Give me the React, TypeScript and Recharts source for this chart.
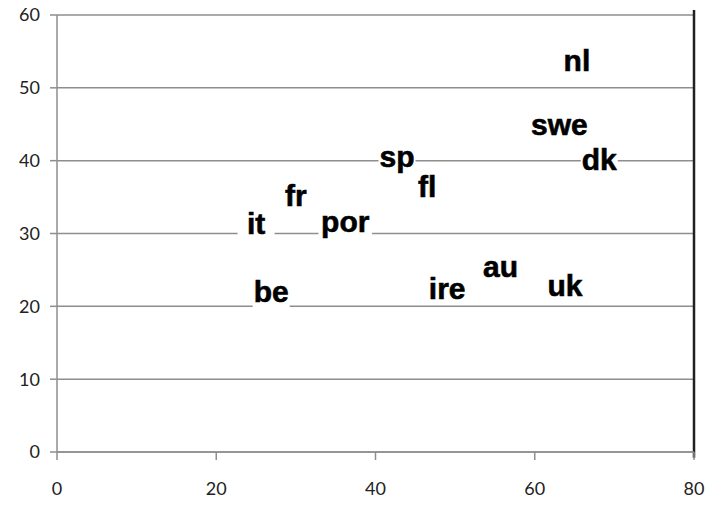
import { CartesianGrid, ReferenceLine, Scatter, ScatterChart, XAxis, YAxis } from "recharts";

// country codes with their (x, y) positions
const countries = ["nl", "swe", "dk", "sp", "fl", "fr", "it", "por", "be", "ire", "au", "uk"];
const xValues = [65.3, 63.1, 68.1, 42.7, 46.5, 30.0, 25.0, 36.2, 26.9, 49.0, 55.7, 63.8];
const yValues = [53.4, 44.6, 39.8, 40.1, 36.0, 34.8, 30.9, 31.2, 21.6, 22.0, 25.1, 22.4];

const xTicks = [0, 20, 40, 60, 80];
const yTicks = [0, 10, 20, 30, 40, 50, 60];

const data = countries.map((name, i) => ({ name, x: xValues[i], y: yValues[i] }));

const LABEL_SIZE = 30;
const GRID = "#8e8e8e";
const tickStyle = { fill: "#222", fontSize: 18, fontFamily: "Lato, sans-serif" };

// Excel-style data label: text centred on the point, white box behind it
function LabelShape(props: any) {
  const { cx, cy, payload } = props;
  const w = payload.name.length * LABEL_SIZE * 0.55 + 4;
  const ty = cy - 3;
  return (
    <g>
      <rect x={cx - w / 2} y={ty - 14} width={w} height={30} fill="#fff" />
      <text
        x={cx}
        y={ty}
        textAnchor="middle"
        dominantBaseline="central"
        fontFamily="'Liberation Sans', Arial, sans-serif"
        fontWeight="bold"
        fontSize={LABEL_SIZE}
        fill="#000"
        stroke="#000"
        strokeWidth={0.6}
      >
        {payload.name}
      </text>
    </g>
  );
}

export default function App() {
  return (
    <div style={{ position: "absolute", left: 0, top: 0, background: "#fff" }}>
      <ScatterChart width={706} height={506} margin={{ top: 15, right: 12, bottom: 14, left: 7 }}>
        <CartesianGrid yAxisId="left" horizontal vertical={false} stroke={GRID} strokeWidth={1.5} />
        <XAxis
          type="number"
          dataKey="x"
          domain={[0, 80]}
          ticks={xTicks}
          height={40}
          stroke={GRID}
          strokeWidth={1.5}
          tickSize={8}
          tickMargin={22}
          tick={tickStyle}
        />
        <YAxis
          yAxisId="left"
          type="number"
          dataKey="y"
          domain={[0, 60]}
          ticks={yTicks}
          width={50}
          stroke={GRID}
          strokeWidth={1.5}
          tickSize={7}
          tickMargin={10}
          tick={tickStyle}
        />
        {/* dark right-hand border of the plot, slightly taller than the plot area */}
        <ReferenceLine
          yAxisId="left"
          segment={[{ x: 80, y: -0.8 }, { x: 80, y: 60.7 }]}
          stroke="#222"
          strokeWidth={2.5}
          ifOverflow="visible"
        />
        <Scatter
          yAxisId="left"
          data={data}
          shape={<LabelShape />}
          isAnimationActive={false}
        />
      </ScatterChart>
    </div>
  );
}
